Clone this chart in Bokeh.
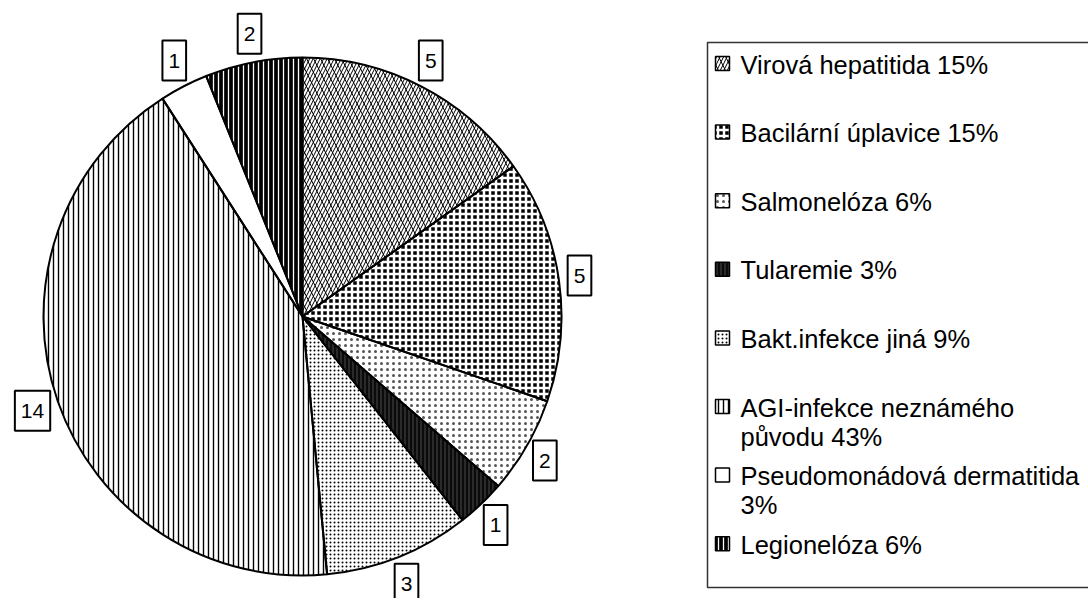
import numpy as np
from bokeh.plotting import figure
from bokeh.models import Range1d
from bokeh.embed import file_html
from bokeh.resources import INLINE
from bokeh.core.properties import value

# ---- data ----
categories = ["Virová hepatitida", "Bacilární úplavice", "Salmonelóza", "Tularemie",
              "Bakt.infekce jiná", "AGI-infekce neznámého\npůvodu", "Pseudomonádová dermatitida",
              "Legionelóza"]
counts = [5, 5, 2, 1, 3, 14, 1, 2]
percents = [15, 15, 6, 3, 9, 43, 3, 6]
pct_sep = [" ", " ", " ", " ", " ", " ", "\n", " "]

# ---- styles (per slice) ----
styles = [
    dict(fill_color="white", hatch_pattern="/", hatch_color="black", hatch_scale=7, hatch_weight=1),
    dict(fill_color="black", hatch_pattern="+", hatch_color="white", hatch_scale=6, hatch_weight=2.5),
    dict(fill_color="white", hatch_pattern=".", hatch_color="#555555", hatch_scale=6, hatch_weight=1.5),
    dict(fill_color="#2a2a2a", hatch_pattern="|", hatch_color="#000000", hatch_scale=4, hatch_weight=1.5),
    dict(fill_color="white", hatch_pattern=".", hatch_color="black", hatch_scale=4, hatch_weight=1.6),
    dict(fill_color="white", hatch_pattern="|", hatch_color="black", hatch_scale=5, hatch_weight=1.4),
    dict(fill_color="white", hatch_pattern=" ", hatch_color="black", hatch_scale=6, hatch_weight=1),
    dict(fill_color="black", hatch_pattern="|", hatch_color="white", hatch_scale=5, hatch_weight=1.3),
]
overlay = {0: dict(hatch_pattern="\\", hatch_color="black", hatch_scale=14, hatch_weight=1)}

W, H = 1088, 598
p = figure(width=W, height=H, x_range=Range1d(0, W), y_range=Range1d(600 - H, 600),
           output_backend="svg", toolbar_location=None, min_border=0,
           x_axis_type=None, y_axis_type=None)
p.grid.visible = False
p.outline_line_color = None
p.background_fill_color = "white"

def Y(img_y):
    return 600 - img_y

cx, cy, R = 302, Y(316), 259
total = sum(counts)
cum = np.concatenate([[0], np.cumsum(counts)]) / total
starts = np.pi / 2 - 2 * np.pi * cum[:-1]
ends = np.pi / 2 - 2 * np.pi * cum[1:]

for i in range(len(counts)):
    st = styles[i]
    p.wedge(x=cx, y=cy, radius=R, start_angle=starts[i], end_angle=ends[i], direction="clock",
            line_color=None, **st)
    if i in overlay:
        p.wedge(x=cx, y=cy, radius=R, start_angle=starts[i], end_angle=ends[i], direction="clock",
                line_color=None, fill_alpha=0, **overlay[i])
for i in range(len(counts)):
    p.wedge(x=cx, y=cy, radius=R, start_angle=starts[i], end_angle=ends[i], direction="clock",
            fill_color=None, line_color="black", line_width=2)

# value labels (boxed)
FS = 21
mid = 2 * np.pi * (cum[:-1] + cum[1:]) / 2  # clockwise from top
lx, ly, lt, bw = [], [], [], []
for i, c in enumerate(counts):
    s = str(c)
    w = 0.556 * FS * len(s) + 12
    hw = w / 2
    hh = 20
    th = mid[i]
    d = R + 9
    lx.append(cx + d * np.sin(th) + hw * np.sin(th))
    ly.append(cy + d * np.cos(th) + hh * np.cos(th))
    lt.append(s)
    bw.append(w)
p.rect(x=lx, y=ly, width=bw, height=40, fill_color="white", line_color="black", line_width=2)
p.text(x=lx, y=ly, text=lt, text_align="center", text_baseline="middle",
       text_font=value("Liberation Sans"), text_font_size=f"{FS}px", text_color="black")

# legend
p.quad(left=707, right=1120, top=Y(42), bottom=Y(587), fill_color=None,
       line_color="#333333", line_width=1.5)
row0, step = 63, 68.6
for i in range(len(categories)):
    yc = Y(row0 + step * i)
    p.rect(x=722, y=yc, width=14, height=14, line_color="black", line_width=1.5, **styles[i])
    if i in overlay:
        p.rect(x=722, y=yc, width=14, height=14, line_color=None, fill_alpha=0, **overlay[i])
    label = f"{categories[i]}{pct_sep[i]}{percents[i]}%"
    p.text(x=[740], y=[yc + 13], text=[label], text_align="left", text_baseline="top",
           text_font=value("Liberation Sans"), text_font_size="25.5px", text_color="black",
           text_line_height=1.04)

open("out.html", "w").write(file_html(p, INLINE))
